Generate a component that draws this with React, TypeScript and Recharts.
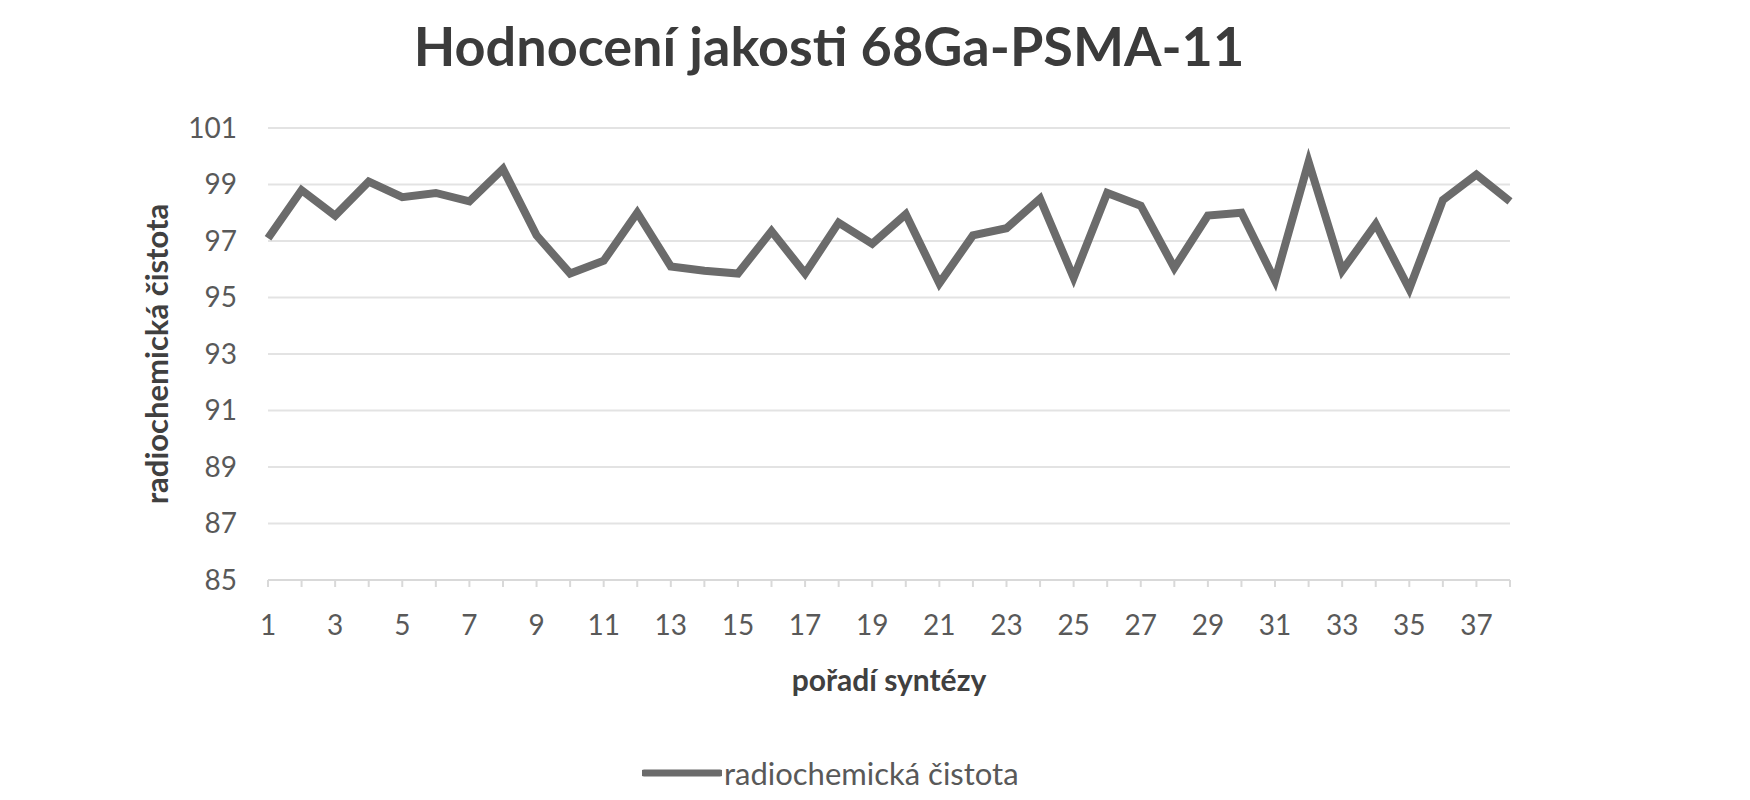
import {LineChart, Line, XAxis, YAxis, CartesianGrid, Legend, Label} from 'recharts';

const synthesisOrder = [
  '1', '2', '3', '4', '5', '6', '7', '8', '9', '10',
  '11', '12', '13', '14', '15', '16', '17', '18', '19', '20',
  '21', '22', '23', '24', '25', '26', '27', '28', '29', '30',
  '31', '32', '33', '34', '35', '36', '37', '38',
];

const radiochemicalPurity = [
  97.1, 98.8, 97.9, 99.1, 98.55, 98.7, 98.4, 99.55, 97.2, 95.85,
  96.3, 98.0, 96.1, 95.95, 95.85, 97.35, 95.85, 97.65, 96.9, 97.95,
  95.5, 97.2, 97.45, 98.5, 95.7, 98.7, 98.25, 96.05, 97.9, 98.0,
  95.6, 99.8, 95.95, 97.6, 95.3, 98.45, 99.35, 98.4,
];

const yTicks = [85, 87, 89, 91, 93, 95, 97, 99, 101];

const chartTitle = 'Hodnocení jakosti 68Ga-PSMA-11';
const seriesName = 'radiochemická čistota';
const xTitle = 'pořadí syntézy';
const yTitle = 'radiochemická čistota';

const data = synthesisOrder.map((order, i) => ({order, purity: radiochemicalPurity[i]}));

const FONT = 'Lato, "Open Sans", sans-serif';
const LINE = '#6b6b6b';

const renderLegend = () => (
  <div style={{display: 'flex', alignItems: 'center', fontFamily: FONT, fontSize: 31, color: '#595959'}}>
    <svg width={80} height={34}>
      <line x1={2} y1={17} x2={78} y2={17} stroke={LINE} strokeWidth={7} strokeLinecap="round" />
    </svg>
    <span style={{marginLeft: 2}}>{seriesName}</span>
  </div>
);

export default function App() {
  return (
    <div style={{position: 'relative', width: 1734, height: 784, background: '#fff'}}>
      <div
        style={{
          position: 'absolute',
          top: 11,
          left: 0,
          width: 1642,
          textAlign: 'center',
          fontFamily: FONT,
          fontWeight: 700,
          fontSize: 54,
          lineHeight: 1,
          color: '#3b3b3b',
          zIndex: 2,
        }}>
        {chartTitle}
      </div>
      <LineChart width={1734} height={784} data={data} margin={{top: 120, right: 232, left: 0, bottom: 0}}>
        <CartesianGrid vertical={false} stroke="#e3e3e3" strokeWidth={2} />
        <XAxis
          dataKey="order"
          interval={0}
          height={212}
          tickFormatter={(v: string, i: number) => (i % 2 === 0 ? v : '')}
          tick={{fill: '#595959', fontSize: 28, fontFamily: FONT}}
          tickSize={7}
          tickMargin={28}
          tickLine={{stroke: '#d9d9d9', strokeWidth: 2}}
          axisLine={{stroke: '#d9d9d9', strokeWidth: 2}}>
          <Label
            content={(props: any) => {
              const vb = props.viewBox;
              return (
                <text
                  x={vb.x + vb.width / 2}
                  y={vb.y + 111}
                  textAnchor="middle"
                  fontFamily={FONT}
                  fontWeight={700}
                  fontSize={30}
                  fill="#404040">
                  {xTitle}
                </text>
              );
            }}
          />
        </XAxis>
        <YAxis
          domain={[85, 101]}
          ticks={yTicks}
          width={260}
          tick={{fill: '#595959', fontSize: 28, fontFamily: FONT}}
          tickSize={0}
          tickMargin={31}
          tickLine={false}
          axisLine={false}>
          <Label
            content={(props: any) => {
              const vb = props.viewBox;
              const cx = vb.x + 148;
              const cy = vb.y + vb.height / 2;
              return (
                <text
                  x={cx}
                  y={cy}
                  transform={`rotate(-90, ${cx}, ${cy})`}
                  textAnchor="middle"
                  dominantBaseline="central"
                  fontFamily={FONT}
                  fontWeight={700}
                  fontSize={31}
                  fill="#404040">
                  {yTitle}
                </text>
              );
            }}
          />
        </YAxis>
        <Legend
          layout="horizontal"
          verticalAlign="middle"
          align="center"
          content={renderLegend}
          wrapperStyle={{top: 746, left: 634, width: 460, height: 34}}
        />
        <Line
          type="linear"
          dataKey="purity"
          name={seriesName}
          stroke={LINE}
          strokeWidth={8}
          dot={false}
          activeDot={false}
          isAnimationActive={false}
        />
      </LineChart>
    </div>
  );
}
